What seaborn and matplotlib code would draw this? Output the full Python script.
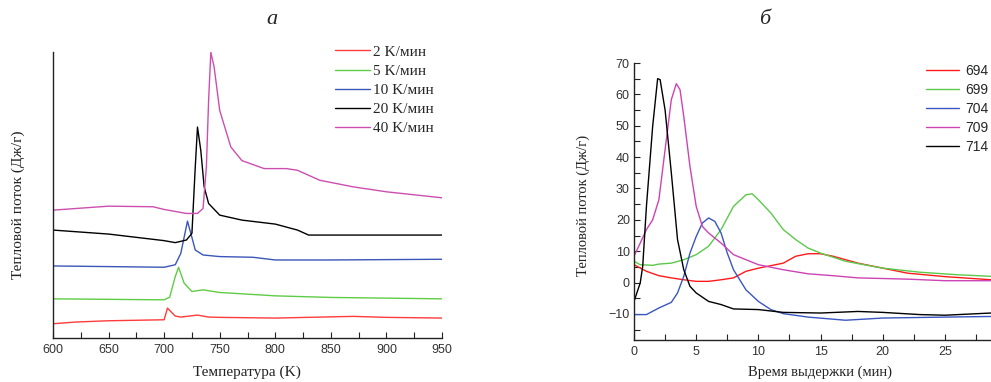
import numpy as np
import pandas as pd
import matplotlib
matplotlib.use("Agg")
import matplotlib.pyplot as plt
import seaborn as sns
from matplotlib.ticker import MultipleLocator

# ---------------- data: panel a (stacked DSC curves, arbitrary units) ----------------
rate_labels = ["2 K/мин", "5 K/мин", "10 K/мин", "20 K/мин", "40 K/мин"]
rate_colors = ["#ff3b3b", "#5fcc45", "#3a56b8", "#000000", "#cc4fb0"]

t2 = [600, 620, 650, 700, 703, 710, 715, 730, 740, 750, 800, 870, 900, 950]
q2 = [14.3, 16, 17.3, 18.3, 30, 22, 21, 23, 21, 20.7, 20, 21.7, 20.7, 20]

t5 = [600, 700, 705, 710, 713, 718, 725, 735, 750, 800, 850, 950]
q5 = [39.3, 38.3, 41, 61.7, 71, 55, 46.7, 48.3, 45.7, 42.3, 40.7, 39.3]

t10 = [600, 700, 710, 715, 721, 724, 728, 735, 750, 780, 800, 850, 950]
q10 = [72.3, 71, 73.5, 85, 117.3, 105, 88.3, 83.3, 81.7, 81, 78.3, 78.3, 79]

t20 = [600, 650, 700, 710, 720, 725, 728, 730, 733, 736, 740, 750, 770, 800, 820, 830, 950]
q20 = [108.3, 104.3, 97.7, 95.7, 98.3, 105, 171.7, 211.7, 188, 151.7, 135, 123.3, 118.3, 114.3, 108.3, 103.3, 103.3]

t40 = [600, 650, 690, 700, 720, 730, 735, 738, 740, 742, 745, 750, 760, 770, 790, 810, 820, 840, 870, 900, 950]
q40 = [128.3, 132.3, 131.7, 129, 125, 125, 130, 171.7, 238, 286.7, 271.7, 228.3, 191.7, 178, 170, 170, 168.3, 158.3, 151.7, 146.7, 140.7]

# ---------------- data: panel б (isothermal holding) ----------------
iso_labels = ["694", "699", "704", "709", "714"]
iso_colors = ["#ff1a1a", "#5cc94a", "#3a56c0", "#cc44b4", "#000000"]

s694 = [0, 1, 2, 3, 4, 5, 6, 7, 8, 9, 10, 11, 12, 13, 14, 15, 16, 17, 18, 20, 22, 25, 28.7]
h694 = [5.7, 3.6, 2.2, 1.5, 0.9, 0.4, 0.4, 0.9, 1.5, 3.6, 4.6, 5.4, 6.2, 8.4, 9.2, 9.2, 8.4, 7.3, 6.2, 4.6, 3.0, 1.9, 0.9]

s699 = [0, 0.5, 1.5, 2, 3, 4, 5, 6, 7, 8, 9, 9.5, 10, 11, 12, 13, 14, 15, 17, 20, 23, 26, 28.7]
h699 = [6.8, 5.7, 5.5, 5.9, 6.2, 7.3, 8.9, 11.6, 16.9, 24.3, 28.0, 28.3, 26.4, 22.2, 16.9, 13.7, 11.0, 9.4, 6.8, 4.6, 3.3, 2.5, 2.0]

s704 = [0, 1, 2, 3, 3.5, 4, 4.5, 5, 5.5, 6, 6.5, 7, 7.5, 8, 9, 10, 11, 12, 14, 17, 20, 25, 28.7]
h704 = [-10.2, -10.2, -8.1, -6.3, -3.3, 2.0, 9.4, 14.7, 19.0, 20.6, 19.5, 15.8, 9.4, 4.1, -2.3, -6.0, -8.6, -9.9, -11.0, -12.0, -11.3, -11.0, -10.8]

s709 = [0, 0.5, 1, 1.5, 2, 2.5, 3, 3.4, 3.7, 4, 4.5, 5, 5.5, 6, 7, 8, 9, 10, 12, 14, 16, 18, 22, 25, 28.7]
h709 = [8.4, 12.6, 16.9, 20.0, 26.4, 42.4, 58.3, 63.4, 61.5, 53.0, 37.0, 24.3, 17.9, 15.8, 12.6, 8.9, 7.3, 5.7, 4.1, 2.8, 2.2, 1.5, 1.1, 0.6, 0.6]

s714 = [0, 0.5, 0.7, 1, 1.5, 1.9, 2.1, 2.5, 3, 3.5, 4, 4.5, 5, 6, 7, 8, 10, 12, 15, 18, 20, 23, 25, 28.7]
h714 = [-6.0, -0.1, 5.2, 24.3, 49.8, 65.0, 64.7, 55.0, 35.0, 13.7, 4.1, -1.2, -3.3, -6.0, -7.0, -8.4, -8.6, -9.5, -9.7, -9.2, -9.5, -10.2, -10.4, -9.7]

# ---------------- build frames ----------------
rows_a = []
for lab, xs, ys in zip(rate_labels, [t2, t5, t10, t20, t40], [q2, q5, q10, q20, q40]):
    for i, (x, y) in enumerate(zip(xs, ys)):
        rows_a.append({"T": x, "Q": y, "rate": lab, "i": i})
df_a = pd.DataFrame(rows_a)

rows_b = []
for lab, xs, ys in zip(iso_labels, [s694, s699, s704, s709, s714], [h694, h699, h704, h709, h714]):
    for i, (x, y) in enumerate(zip(xs, ys)):
        rows_b.append({"t": x, "H": y, "iso": lab, "i": i})
df_b = pd.DataFrame(rows_b)

sns.set_theme(style="ticks")
plt.rcParams["font.family"] = ["Liberation Serif", "DejaVu Serif"]
serif = ["Liberation Serif", "DejaVu Serif"]
sans = ["Liberation Sans", "DejaVu Sans"]

fig = plt.figure(figsize=(9.91, 3.82), dpi=100)
ax1 = fig.add_axes([53 / 991, 1 - 338 / 382, (442 - 53) / 991, (338 - 52) / 382])
ax2 = fig.add_axes([634 / 991, 1 - 340 / 382, (991 - 634) / 991, (340 - 63) / 382])

sns.lineplot(data=df_a, x="T", y="Q", hue="rate", hue_order=rate_labels,
             palette=rate_colors, sort=False, estimator=None, units="rate",
             linewidth=1.0, ax=ax1, legend=True)
sns.lineplot(data=df_b, x="t", y="H", hue="iso", hue_order=iso_labels,
             palette=iso_colors, sort=False, estimator=None, units="iso",
             linewidth=1.0, ax=ax2, legend=True)

# panel a axes
ax1.set_xlim(600, 950)
ax1.set_ylim(0, 287)
ax1.xaxis.set_major_locator(MultipleLocator(50))
ax1.xaxis.set_minor_locator(MultipleLocator(25))
ax1.set_yticks([])
for s in ["top", "right"]:
    ax1.spines[s].set_visible(False)

# panel б axes
ax2.set_xlim(0, 28.7)
ax2.set_ylim(-18.3, 70)
ax2.xaxis.set_major_locator(MultipleLocator(5))
ax2.xaxis.set_minor_locator(MultipleLocator(2.5))
ax2.yaxis.set_major_locator(MultipleLocator(10))
ax2.yaxis.set_minor_locator(MultipleLocator(5))
for s in ["top", "right"]:
    ax2.spines[s].set_visible(False)

for ax in (ax1, ax2):
    for s in ["left", "bottom"]:
        ax.spines[s].set_linewidth(1.0)
        ax.spines[s].set_color("#222222")
    ax.tick_params(which="both", direction="in", color="#222222", width=0.8)
    ax.tick_params(which="major", length=4)
    ax.tick_params(which="minor", length=4)
    for lbl in ax.get_xticklabels() + ax.get_yticklabels():
        lbl.set_family(sans)
        lbl.set_fontsize(9)
        lbl.set_color("#333333")
    ax.set_xlabel("")
    ax.set_ylabel("")

ax1.tick_params(axis="x", pad=4)
ax2.tick_params(axis="x", pad=4)
ax2.tick_params(axis="y", pad=3)

# labels
fig.text(247 / 991, 1 - 372 / 382, "Температура (K)", family=serif, fontsize=11,
         ha="center", va="center", color="#222222")
fig.text(18 / 991, 1 - 205 / 382, "Тепловой поток (Дж/г)", family=serif, fontsize=11,
         ha="center", va="center", rotation=90, color="#222222")
fig.text(820 / 991, 1 - 372 / 382, "Время выдержки (мин)", family=serif, fontsize=10.5,
         ha="center", va="center", color="#222222")
fig.text(583 / 991, 1 - 205 / 382, "Тепловой поток (Дж/г)", family=serif, fontsize=10.5,
         ha="center", va="center", rotation=90, color="#222222")

# titles
fig.text(272 / 991, 1 - 20 / 382, "а", family=serif, style="italic", fontsize=16,
         ha="center", va="center")
fig.text(765 / 991, 1 - 20 / 382, "б", family=serif, style="italic", fontsize=16,
         ha="center", va="center")

# legends
h1, l1 = ax1.get_legend_handles_labels()
ax1.legend(h1, l1, loc="upper left", bbox_to_anchor=(335 / 991, 1 - 45 / 382),
           bbox_transform=fig.transFigure, frameon=False, borderpad=0,
           borderaxespad=0, handlelength=2.3, handletextpad=0.2,
           labelspacing=0.36, prop={"family": serif, "size": 11})
h2, l2 = ax2.get_legend_handles_labels()
ax2.legend(h2, l2, loc="upper left", bbox_to_anchor=(926 / 991, 1 - 64 / 382),
           bbox_transform=fig.transFigure, frameon=False, borderpad=0,
           borderaxespad=0, handlelength=2.4, handletextpad=0.4,
           labelspacing=0.36, prop={"family": sans, "size": 10})

fig.savefig("out.png", dpi=100)
